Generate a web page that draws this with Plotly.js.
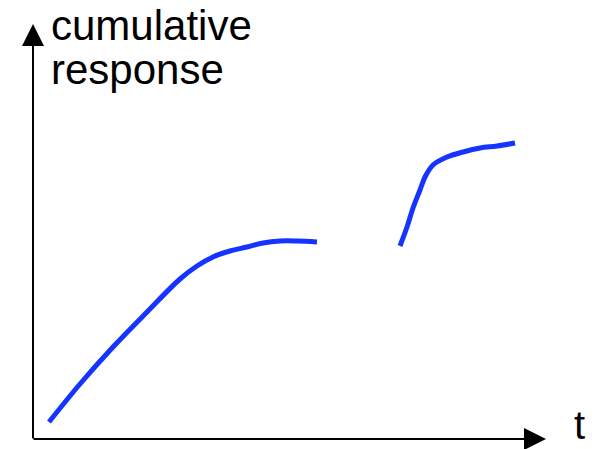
<!DOCTYPE html>
<html>
<head>
<meta charset="utf-8">
<script src="https://cdn.plot.ly/plotly-3.0.1.min.js"></script>
<style>html,body{margin:0;padding:0;background:#fff;}#chart{width:597px;height:449px;}</style>
</head>
<body>
<div id="chart"></div>
<script>
// Early phase: cumulative response over time t
var tEarly = [16, 47, 80, 114, 147, 164, 180, 197, 214, 230, 247, 264, 284];
var respEarly = [17, 55, 92, 127, 160, 173, 182, 188, 192, 196, 198, 198, 197];
// Late phase
var tLate = [367, 374, 380, 387, 392, 400, 414, 430, 447, 464, 482];
var respLate = [193, 212, 231, 249, 262, 274, 282, 287, 291, 293, 296];

var yLabelLines = ["cumulative", "response"];
var xLabel = "t";

var blue = "rgb(22,52,255)";
var lineStyle = {color: blue, width: 5, shape: "spline", smoothing: 1};

var traces = [
  {x: tEarly, y: respEarly, mode: "lines", line: lineStyle, hoverinfo: "skip"},
  {x: tLate, y: respLate, mode: "lines", line: lineStyle, hoverinfo: "skip"}
];

var font = {family: "Liberation Sans, Arial, Helvetica, sans-serif", color: "#000"};

var layout = {
  width: 597, height: 449,
  margin: {l: 0, r: 0, t: 0, b: 0},
  paper_bgcolor: "#fff", plot_bgcolor: "#fff",
  showlegend: false,
  xaxis: {range: [-33, 564], visible: false, fixedrange: true},
  yaxis: {range: [-10, 439], visible: false, fixedrange: true},
  annotations: [
    {x: 0, y: 415, ax: 0, ay: -1, axref: "x", ayref: "y", xref: "x", yref: "y",
     text: "", showarrow: true, arrowhead: 2, arrowsize: 2.2, arrowwidth: 2, arrowcolor: "#000", standoff: 0, startstandoff: 0},
    {x: 513, y: 0, ax: -1, ay: 0, axref: "x", ayref: "y", xref: "x", yref: "y",
     text: "", showarrow: true, arrowhead: 2, arrowsize: 2.2, arrowwidth: 2, arrowcolor: "#000", standoff: 0, startstandoff: 0},
    {xref: "paper", yref: "paper", xanchor: "left", yanchor: "top",
     x: 49/597, y: 1 - 0/449, text: yLabelLines[0], showarrow: false, font: Object.assign({size: 42}, font)},
    {xref: "paper", yref: "paper", xanchor: "left", yanchor: "top",
     x: 49/597, y: 1 - 44/449, text: yLabelLines[1], showarrow: false, font: Object.assign({size: 42}, font)},
    {xref: "paper", yref: "paper", xanchor: "left", yanchor: "top",
     x: 572/597, y: 1 - 401/449, text: xLabel, showarrow: false, font: Object.assign({size: 40}, font)}
  ]
};

Plotly.newPlot("chart", traces, layout, {staticPlot: true, displayModeBar: false});
</script>
</body>
</html>
